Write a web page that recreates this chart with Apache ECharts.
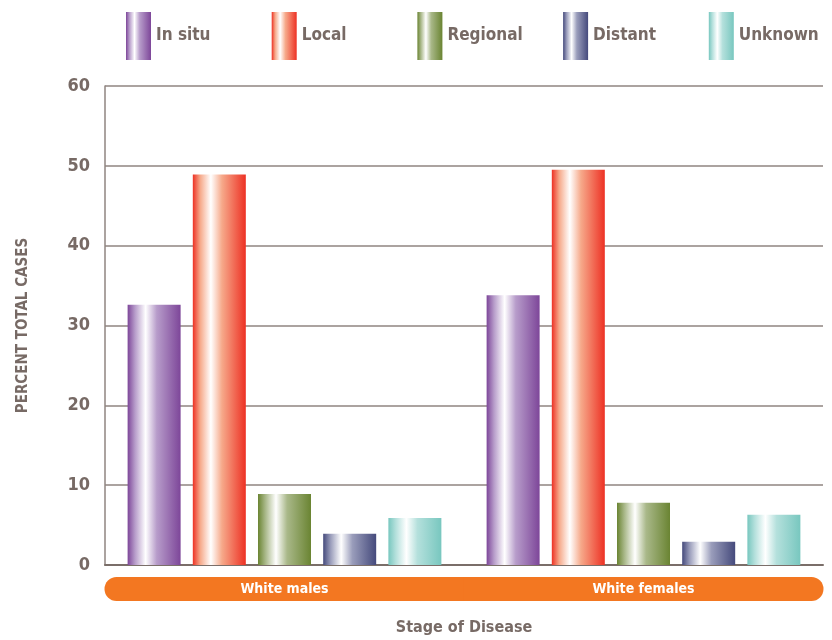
<!DOCTYPE html>
<html>
<head>
<meta charset="utf-8">
<script src="https://cdn.jsdelivr.net/npm/echarts@6/dist/echarts.min.js"></script>
<style>html,body{margin:0;padding:0;background:#fff;}#chart{width:832px;height:640px;}</style>
</head>
<body>
<div id="chart"></div>
<script>
const categories = ['White males', 'White females'];
const stages = ['In situ', 'Local', 'Regional', 'Distant', 'Unknown'];
const inSitu = [32.6, 33.8];
const local = [48.9, 49.5];
const regional = [8.9, 7.8];
const distant = [3.9, 2.9];
const unknown = [5.9, 6.3];
const yTicks = [0, 10, 20, 30, 40, 50, 60];

const seriesValues = [inSitu, local, regional, distant, unknown];
const baseColors = ['#7d4699', '#ed3124', '#6a8432', '#454a7c', '#78c7bf'];
const tints = ['#b79cca', '#f6a98a', '#a9b889', '#9a9dbb', '#b4e0dc'];

const FONT = "'Liberation Sans Narrow','DejaVu Sans Condensed','Roboto Condensed',sans-serif";
const TXT = '#776a65';

function grad(c, t) {
  return {
    type: 'linear', x: 0, y: 0, x2: 1, y2: 0,
    colorStops: [
      { offset: 0, color: c },
      { offset: 0.14, color: t },
      { offset: 0.34, color: '#ffffff' },
      { offset: 0.55, color: t },
      { offset: 1, color: c }
    ]
  };
}

const legends = stages.map(function (s, i) {
  return {
    left: 126 + i * 145.7, top: 12, padding: 0,
    itemWidth: 25, itemHeight: 48,
    icon: 'rect',
    data: [s],
    textStyle: { fontFamily: FONT, fontWeight: 'bold', fontSize: 17, color: TXT }
  };
});

const chart = echarts.init(document.getElementById('chart'), null, { renderer: 'canvas' });
chart.setOption({
  animation: false,
  backgroundColor: '#ffffff',
  legend: legends,
  grid: { left: 105, right: 9, top: 86, bottom: 75, containLabel: false, outerBoundsMode: 'none' },
  xAxis: {
    type: 'category',
    data: categories,
    name: 'Stage of Disease',
    nameLocation: 'middle',
    nameGap: 55,
    nameTextStyle: { fontFamily: FONT, fontWeight: 'bold', fontSize: 16, color: TXT },
    axisLine: { lineStyle: { color: '#7a6e69', width: 2 } },
    axisTick: { alignWithLabel: true, length: 12, lineStyle: { color: '#8f8480', width: 1.5 } },
    axisLabel: {
      interval: 0,
      margin: 12,
      formatter: function (v, i) { return (i === 0 ? '{l|' : '{r|') + v + '}'; },
      rich: {
        l: { width: 360, height: 24, lineHeight: 24, align: 'center', backgroundColor: '#f37721', borderRadius: [12, 0, 0, 12], color: '#ffffff', fontFamily: FONT, fontWeight: 'bold', fontSize: 14 },
        r: { width: 360, height: 24, lineHeight: 24, align: 'center', backgroundColor: '#f37721', borderRadius: [0, 12, 12, 0], color: '#ffffff', fontFamily: FONT, fontWeight: 'bold', fontSize: 14 }
      }
    }
  },
  yAxis: {
    type: 'value',
    min: yTicks[0], max: yTicks[yTicks.length - 1], interval: 10,
    name: 'PERCENT TOTAL CASES',
    nameLocation: 'middle',
    nameRotate: 90,
    nameGap: 74,
    nameTextStyle: { fontFamily: FONT, fontWeight: 'bold', fontSize: 15, color: TXT },
    axisLine: { show: true, lineStyle: { color: '#8f8480', width: 1.5 } },
    axisTick: { show: false },
    axisLabel: { margin: 15, fontFamily: FONT, fontWeight: 'bold', fontSize: 18, color: TXT },
    splitLine: { lineStyle: { color: '#8f8480', width: 1.5 } }
  },
  series: stages.map(function (s, i) {
    return {
      name: s,
      type: 'bar',
      data: seriesValues[i],
      barWidth: 53,
      barGap: '23%',
      itemStyle: { color: grad(baseColors[i], tints[i]) }
    };
  })
});
</script>
</body>
</html>
